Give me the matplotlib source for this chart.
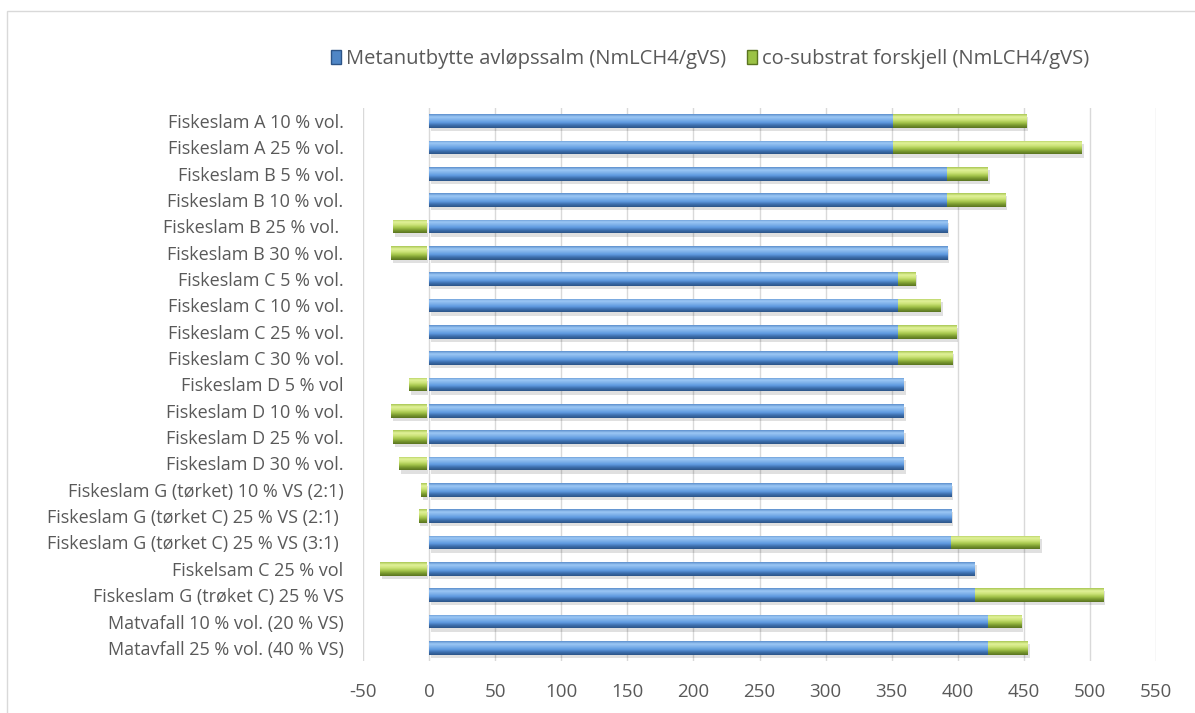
import numpy as np
import matplotlib
matplotlib.use("Agg")
import matplotlib.pyplot as plt
from matplotlib.colors import LinearSegmentedColormap
from matplotlib.patches import Patch, Rectangle

# Substrate mixtures (top to bottom)
categories = [
    "Fiskeslam A 10 % vol.",
    "Fiskeslam A 25 % vol.",
    "Fiskeslam B 5 % vol.",
    "Fiskeslam B 10 % vol.",
    "Fiskeslam B 25 % vol. ",
    "Fiskeslam B 30 % vol.",
    "Fiskeslam C 5 % vol.",
    "Fiskeslam C 10 % vol.",
    "Fiskeslam C 25 % vol.",
    "Fiskeslam C 30 % vol.",
    "Fiskeslam D 5 % vol",
    "Fiskeslam D 10 % vol.",
    "Fiskeslam D 25 % vol.",
    "Fiskeslam D 30 % vol.",
    "Fiskeslam G (tørket) 10 % VS (2:1)",
    "Fiskeslam G (tørket C) 25 % VS (2:1) ",
    "Fiskeslam G (tørket C) 25 % VS (3:1) ",
    "Fiskelsam C 25 % vol",
    "Fiskeslam G (trøket C) 25 % VS",
    "Matvafall 10 % vol. (20 % VS)",
    "Matavfall 25 % vol. (40 % VS)",
]

# Methane yield of the sewage sludge alone (NmLCH4/gVS)
sludge_yield = [351, 351, 392, 392, 392, 392, 355, 355, 355, 355,
                359, 359, 359, 359, 395, 395, 395, 413, 413, 423, 423]

# Difference caused by the co-substrate (NmLCH4/gVS)
cosub_diff = [101, 143, 31, 44, -27, -29, 13, 32, 44, 41,
              -15, -29, -27, -23, -6, -8, 67, -37, 97, 25, 30]

series_names = ["Metanutbytte avløpssalm (NmLCH4/gVS)",
                "co-substrat forskjell (NmLCH4/gVS)"]

x_ticks = list(range(-50, 551, 50))

text_color = "#595959"
plt.rcParams["font.family"] = ["Open Sans", "DejaVu Sans"]

fig = plt.figure(figsize=(11.95, 7.13), dpi=100)
fig.patches.append(Rectangle((7 / 1195, -0.01), 1.1, 1 - 11 / 713 + 0.01,
                             transform=fig.transFigure, fill=False,
                             edgecolor="#D9D9D9", linewidth=1.0))

ax = fig.add_axes([363 / 1195, 1 - 661 / 713, (1156 - 363) / 1195, (661 - 108) / 713])

blue_cmap = LinearSegmentedColormap.from_list(
    "blue_cyl", ["#5d8fcc", "#9cc8f5", "#7fb2ea", "#5f9ae0", "#3d6fae", "#2c5487"])
green_cmap = LinearSegmentedColormap.from_list(
    "green_cyl", ["#a9c754", "#e2f29a", "#cde47a", "#a8c84f", "#7a9a30", "#5a7420"])

grad = np.linspace(0, 1, 64).reshape(-1, 1)
h = 0.52
y = np.arange(len(categories))

sludge = np.array(sludge_yield, dtype=float)
diff = np.array(cosub_diff, dtype=float)
green_left = np.where(diff >= 0, sludge, 0.0)


def cylinder_bars(lefts, widths, cmap, gap=0.0):
    bars = ax.barh(y, widths, left=lefts, height=h, color="none", edgecolor="none", zorder=3)
    for bar in bars:
        x0, y0 = bar.get_x(), bar.get_y()
        w, hh = bar.get_width(), bar.get_height()
        xa, xb = min(x0, x0 + w), max(x0, x0 + w)
        if w < 0:
            xb -= gap
        # soft drop shadow under the bar
        ax.add_patch(Rectangle((xa + 1.5, y0 + 0.12), xb - xa, hh, facecolor="#000000",
                               alpha=0.12, edgecolor="none", zorder=2))
        clip = Rectangle((xa, y0), xb - xa, hh, transform=ax.transData)
        im = ax.imshow(grad, cmap=cmap, aspect="auto", origin="upper",
                       extent=(xa, xb, y0 + hh, y0), zorder=3, interpolation="bilinear")
        im.set_clip_path(clip)
    return bars


cylinder_bars(np.zeros(len(sludge)), sludge, blue_cmap)
cylinder_bars(green_left, diff, green_cmap, gap=2.0)

ax.set_xlim(-50, 550)
ax.set_ylim(len(categories) - 0.5, -0.5)
ax.set_xticks(x_ticks)
ax.set_xticklabels([str(t) for t in x_ticks])
ax.set_yticks(y)
ax.set_yticklabels(categories)
ax.tick_params(axis="both", length=0, colors=text_color)
ax.tick_params(axis="x", pad=16, labelsize=13.5)
ax.tick_params(axis="y", pad=14, labelsize=13)
ax.grid(axis="x", color="#D9D9D9", linewidth=1.0, zorder=0)
ax.set_axisbelow(True)
for s in ax.spines.values():
    s.set_visible(False)

handles = [Patch(facecolor="#4f86c6", edgecolor="#2c5487"),
           Patch(facecolor="#9bc245", edgecolor="#5a7420")]
fig.legend(handles, series_names, loc="center", bbox_to_anchor=(710 / 1195, 1 - 59 / 713),
           ncol=2, frameon=False, fontsize=14.5, labelcolor=text_color,
           handlelength=0.5, handleheight=0.7, handletextpad=0.25, columnspacing=1.0)

fig.savefig("out.png", dpi=100)
